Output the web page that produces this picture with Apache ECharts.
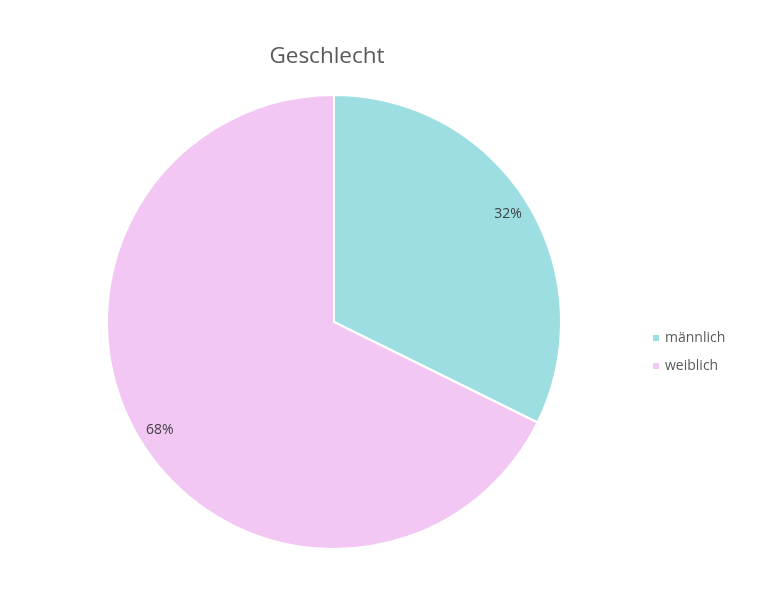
<!DOCTYPE html>
<html><head><meta charset="utf-8">
<script src="https://cdn.jsdelivr.net/npm/echarts@6/dist/echarts.min.js"></script>
<style>html,body{margin:0;padding:0;background:#fff}#c{width:766px;height:600px}</style>
</head><body><div id="c"></div>
<script>
const categories = ['männlich', 'weiblich'];
const values = [32.3, 67.7];
const colors = ['#9DDEE2', '#F2C7F3'];

const chart = echarts.init(document.getElementById('c'));
const data = categories.map((n, i) => ({ name: n, value: values[i], itemStyle: { color: colors[i] } }));
const font = 'Open Sans, Noto Sans, sans-serif';
chart.setOption({
  animation: false,
  title: { text: 'Geschlecht', left: 322, top: 40, textAlign: 'center',
    textStyle: { fontFamily: font, fontSize: 22.5, fontWeight: 'normal', color: '#595959' } },
  legend: {
    orient: 'vertical', left: 646, top: 326, itemWidth: 8, itemHeight: 8, itemGap: 14,
    icon: 'rect',
    data: categories.map((n, i) => ({ name: n, itemStyle: { color: colors[i] } })),
    textStyle: { fontFamily: font, fontSize: 14, color: '#595959' }
  },
  series: [
    {
      type: 'pie', center: [334, 322], radius: 227, startAngle: 90, clockwise: true,
      data: data, label: { show: false }, labelLine: { show: false },
      itemStyle: { borderColor: '#fff', borderWidth: 2 }
    },
    {
      type: 'pie', center: [334, 322], radius: [177, 227], startAngle: 90, clockwise: true,
      silent: true, z: 3,
      data: categories.map((n, i) => ({ name: n, value: values[i] })),
      itemStyle: { color: 'rgba(0,0,0,0)' },
      label: { show: true, position: 'inside', formatter: p => Math.round(p.value) + '%',
        fontFamily: font, fontSize: 14, color: '#404040' },
      labelLine: { show: false }
    }
  ]
});
</script></body></html>
